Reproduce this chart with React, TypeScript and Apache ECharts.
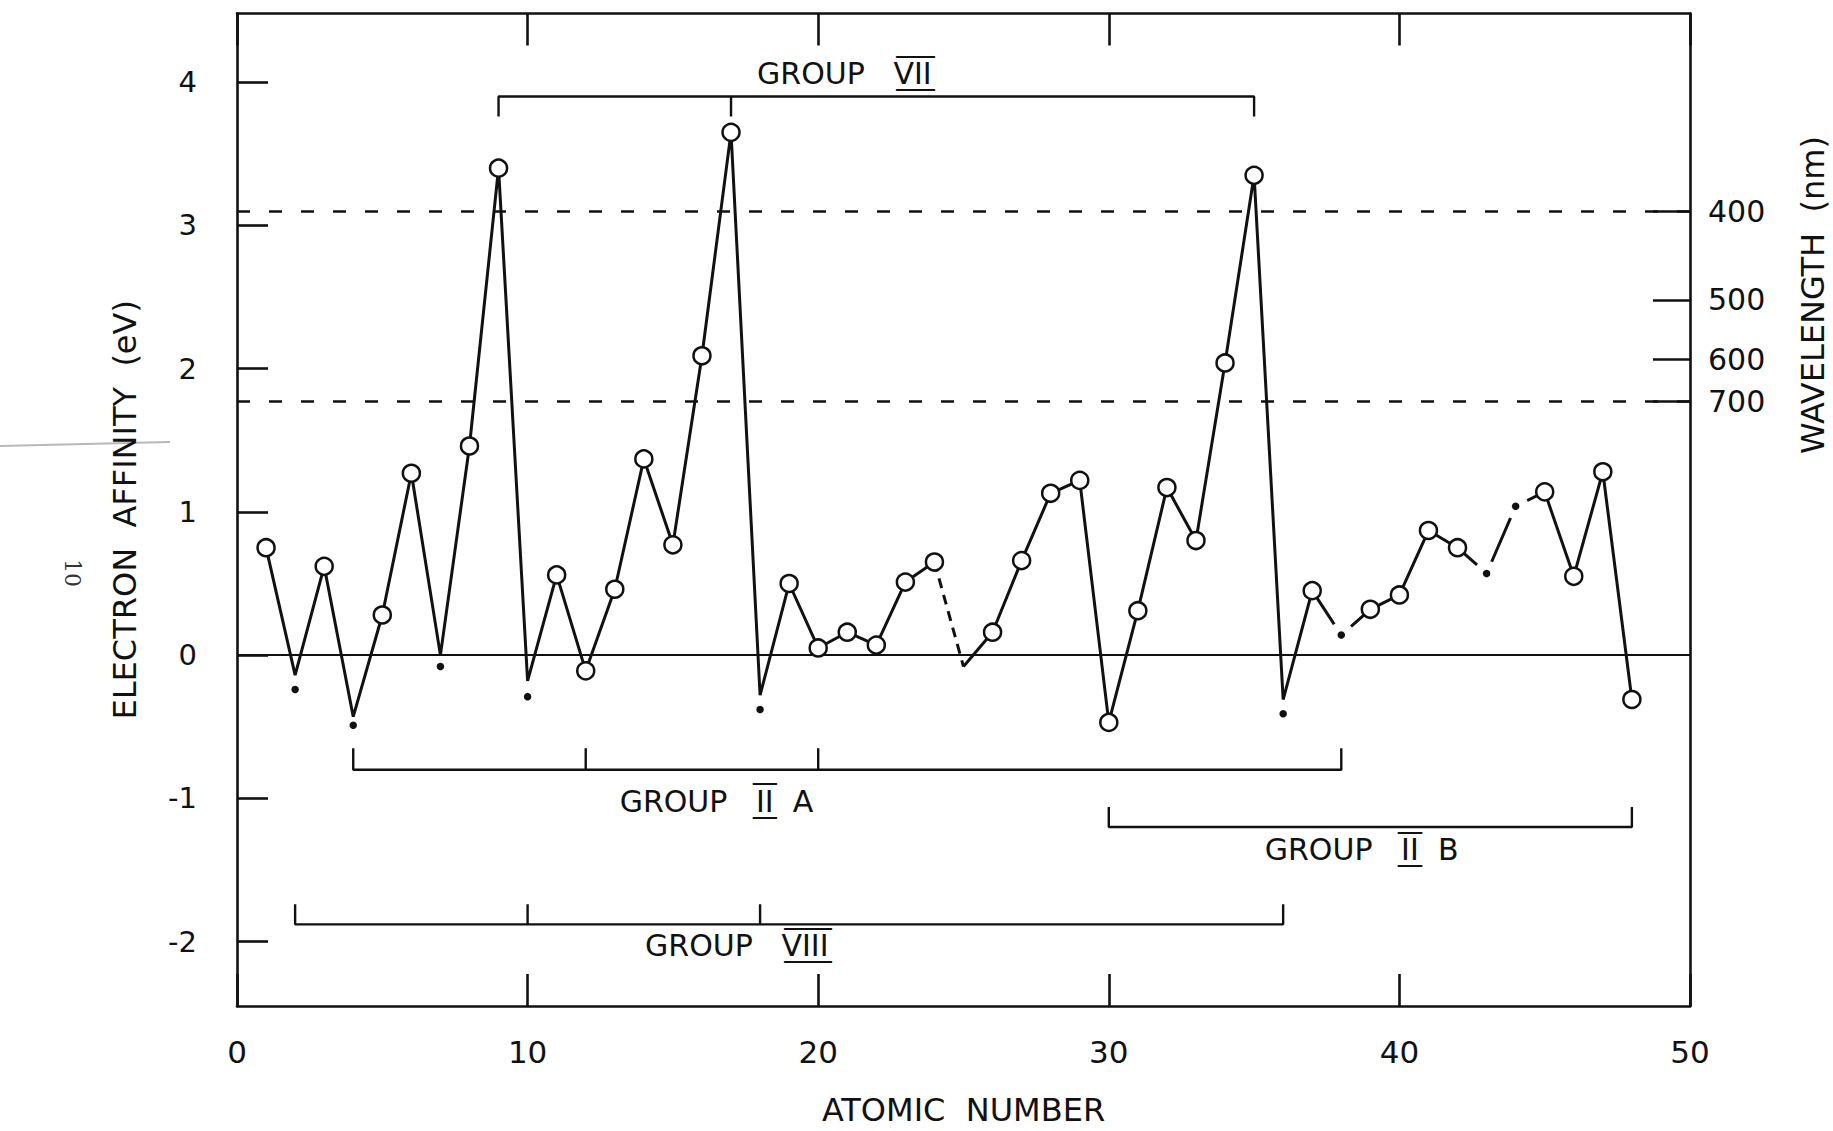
import React, { useEffect, useRef } from "react";
import * as echarts from "echarts";

// ---------- data ----------
const atomicNumbers = [
  1, 2, 3, 4, 5, 6, 7, 8, 9, 10, 11, 12, 13, 14, 15, 16, 17, 18, 19, 20, 21, 22, 23, 24,
  25, 26, 27, 28, 29, 30, 31, 32, 33, 34, 35, 36, 37, 38, 39, 40, 41, 42, 43, 44, 45, 46, 47, 48,
];
// vertices of the connecting polyline (eV)
const lineValues = [
  0.75, -0.14, 0.62, -0.43, 0.28, 1.27, 0.0, 1.46, 3.4, -0.18, 0.56, -0.11, 0.46, 1.37, 0.77, 2.09,
  3.65, -0.28, 0.5, 0.05, 0.16, 0.07, 0.51, 0.65, -0.08, 0.16, 0.66, 1.13, 1.22, -0.47, 0.31, 1.17,
  0.8, 2.04, 3.35, -0.31, 0.45, 0.14, 0.32, 0.42, 0.87, 0.75, 0.57, 1.04, 1.14, 0.55, 1.28, -0.31,
];
// o = open circle, . = small dot, - = no marker
const markerKinds = [
  "o", ".", "o", ".", "o", "o", ".", "o", "o", ".", "o", "o", "o", "o", "o", "o",
  "o", ".", "o", "o", "o", "o", "o", "o", "-", "o", "o", "o", "o", "o", "o", "o",
  "o", "o", "o", ".", "o", ".", "o", "o", "o", "o", ".", ".", "o", "o", "o", "o",
];
const dotAtomicNumbers = [2, 4, 7, 10, 18, 36, 38, 43, 44];
const dotValues = [-0.24, -0.49, -0.08, -0.29, -0.38, -0.41, 0.14, 0.57, 1.04];
const gapDotAtomicNumbers = [38, 43, 44];
const dashedSegmentStarts = [24];

const xTickLabels = [0, 10, 20, 30, 40, 50];
const yTickValues = [-2, -1, 0, 1, 2, 3, 4];
const wavelengthTicks = [400, 500, 600, 700];
const dashedWavelengths = [400, 700];
const HC = 1239.84;

// Roman numerals written with over- and under-bars, as in the figure
const groupNumerals = [
  "V\u0332\u0305I\u0332\u0305I\u0332\u0305",
  "I\u0332\u0305I\u0332\u0305",
  "I\u0332\u0305I\u0332\u0305",
  "V\u0332\u0305I\u0332\u0305I\u0332\u0305I\u0332\u0305",
];
const groupSuffixes = ["", "A", "B", ""];
const groupStart = [9, 4, 30, 2];
const groupEnd = [35, 38, 48, 36];
const groupMidTicks = [[17], [12, 20], [], [10, 18]];
const groupLevel = [3.9, -0.8, -1.2, -1.88];
const groupTickEnd = [3.76, -0.65, -1.06, -1.74];
const groupLabelZ = [20.9, 16.5, 38.7, 17.2];
const groupLabelValue = [4.06, -1.02, -1.36, -2.03];

// ---------- style ----------
const ink = "#111";
const font = "DejaVu Sans";

function buildOption() {
  const pts = atomicNumbers.map((z, i) => [z, lineValues[i]]);
  const solidRuns: number[][][] = [];
  const dashedRuns: number[][][] = [];
  let run: number[][] = [pts[0]];
  for (let i = 1; i < pts.length; i++) {
    if (dashedSegmentStarts.includes(atomicNumbers[i - 1])) {
      if (run.length > 1) solidRuns.push(run);
      dashedRuns.push([pts[i - 1], pts[i]]);
      run = [pts[i]];
    } else run.push(pts[i]);
  }
  if (run.length > 1) solidRuns.push(run);

  const series: any[] = [];
  solidRuns.forEach((r, k) => {
    series.push({
      type: "line",
      data: r,
      showSymbol: false,
      symbol: "none",
      silent: true,
      z: 3,
      lineStyle: { color: ink, width: 3, opacity: 1 },
      markLine:
        k === 0
          ? {
              silent: true,
              symbol: ["none", "none"],
              label: { show: false },
              data: [
                { yAxis: 0, lineStyle: { color: ink, width: 2.2, type: "solid", opacity: 1 } },
                ...dashedWavelengths.map((w) => ({
                  yAxis: HC / w,
                  lineStyle: { color: ink, width: 2.6, type: [13, 19], opacity: 1 },
                })),
              ],
            }
          : undefined,
    });
  });
  dashedRuns.forEach((r) =>
    series.push({
      type: "line",
      data: r,
      showSymbol: false,
      symbol: "none",
      silent: true,
      z: 3,
      lineStyle: { color: ink, width: 3, type: [10, 7], opacity: 1 },
    })
  );

  // brackets
  groupStart.forEach((s, i) => {
    series.push({
      type: "line",
      data: [
        [s, groupTickEnd[i]],
        [s, groupLevel[i]],
        [groupEnd[i], groupLevel[i]],
        [groupEnd[i], groupTickEnd[i]],
      ],
      showSymbol: false,
      symbol: "none",
      silent: true,
      z: 2,
      lineStyle: { color: ink, width: 2.4, opacity: 1 },
    });
    groupMidTicks[i].forEach((m) =>
      series.push({
        type: "line",
        data: [
          [m, groupLevel[i]],
          [m, groupTickEnd[i]],
        ],
        showSymbol: false,
        symbol: "none",
        silent: true,
        z: 2,
        lineStyle: { color: ink, width: 2.4, opacity: 1 },
      })
    );
  });

  // group labels
  series.push({
    type: "scatter",
    silent: true,
    z: 4,
    symbolSize: 1,
    itemStyle: { color: "rgba(0,0,0,0)", opacity: 1 },
    data: groupLabelZ.map((z, i) => [z, groupLabelValue[i]]),
    label: {
      show: true,
      position: "inside",
      opacity: 1,
      formatter: (p: any) => {
        const i = p.dataIndex;
        let s = `{t|GROUP}{s|   }{r|${groupNumerals[i]}}`;
        if (groupSuffixes[i]) s += `{s|  }{t|${groupSuffixes[i]}}`;
        return s;
      },
      rich: {
        t: { fontFamily: font, fontSize: 30, color: ink },
        s: { fontFamily: font, fontSize: 30, color: ink },
        r: { fontFamily: font, fontSize: 30, color: ink },
      },
    },
  });

  // white masks that open small gaps around some dots
  series.push({
    type: "scatter",
    silent: true,
    z: 5,
    symbol: "circle",
    symbolSize: 26,
    itemStyle: { color: "#fff", opacity: 1 },
    data: gapDotAtomicNumbers.map((z) => [z, dotValues[dotAtomicNumbers.indexOf(z)]]),
  });
  // small dots
  series.push({
    type: "scatter",
    silent: true,
    z: 6,
    symbol: "circle",
    symbolSize: 7.5,
    itemStyle: { color: ink, opacity: 1 },
    data: dotAtomicNumbers.map((z, i) => [z, dotValues[i]]),
  });
  // open circles
  series.push({
    type: "scatter",
    silent: true,
    z: 7,
    symbol: "circle",
    symbolSize: 17,
    itemStyle: { color: "#fff", borderColor: ink, borderWidth: 2.5, opacity: 1 },
    data: atomicNumbers
      .map((z, i) => (markerKinds[i] === "o" ? [z, lineValues[i]] : null))
      .filter((d) => d !== null),
  });

  const axisLine = { show: true, onZero: false, lineStyle: { color: ink, width: 2.6 } };
  const yMin = -2.45;
  const yMax = 4.48;
  const eVTicks = wavelengthTicks.map((w) => HC / w);

  return {
    animation: false,
    backgroundColor: "#fff",
    grid: { left: 237, right: 143, top: 13.5, bottom: 123, containLabel: false },
    xAxis: [
      {
        type: "value",
        position: "bottom",
        min: 0,
        max: 50,
        interval: 10,
        axisLine,
        splitLine: { show: false },
        axisTick: { show: true, inside: true, length: 32, lineStyle: { color: ink, width: 2.6 } },
        axisLabel: {
          show: true,
          margin: 30,
          fontFamily: font,
          fontSize: 31,
          color: ink,
          customValues: xTickLabels,
        },
        name: "ATOMIC  NUMBER",
        nameLocation: "middle",
        nameGap: 88,
        nameTextStyle: { fontFamily: font, fontSize: 32, color: ink },
      },
      {
        type: "value",
        position: "top",
        min: 0,
        max: 50,
        interval: 10,
        axisLine,
        splitLine: { show: false },
        axisTick: { show: true, inside: true, length: 32, lineStyle: { color: ink, width: 2.6 } },
        axisLabel: { show: false },
      },
    ],
    yAxis: [
      {
        type: "value",
        position: "left",
        min: yMin,
        max: yMax,
        axisLine,
        splitLine: { show: false },
        axisTick: {
          show: true,
          inside: true,
          length: 31,
          customValues: yTickValues,
          lineStyle: { color: ink, width: 2.6 },
        },
        axisLabel: {
          show: true,
          margin: 40,
          fontFamily: font,
          fontSize: 29,
          color: ink,
          customValues: yTickValues,
        },
        name: "ELECTRON  AFFINITY  (eV)",
        nameLocation: "middle",
        nameRotate: 90,
        nameGap: 96,
        nameTextStyle: { fontFamily: font, fontSize: 32, color: ink },
      },
      {
        type: "value",
        position: "right",
        min: yMin,
        max: yMax,
        axisLine,
        splitLine: { show: false },
        axisTick: {
          show: true,
          inside: true,
          length: 37,
          customValues: eVTicks,
          lineStyle: { color: ink, width: 2.6 },
        },
        axisLabel: {
          show: true,
          margin: 18,
          fontFamily: font,
          fontSize: 30,
          color: ink,
          customValues: eVTicks,
          formatter: (v: number) => String(Math.round(HC / v)),
        },
      },
    ],
    graphic: [
      {
        type: "text",
        x: 1813,
        y: 295,
        rotation: Math.PI / 2,
        style: {
          text: "WAVELENGTH  (nm)",
          fontFamily: font,
          fontSize: 32,
          fill: ink,
          textAlign: "center",
          textVerticalAlign: "middle",
        },
      },
      {
        type: "text",
        x: 72,
        y: 573,
        rotation: -Math.PI / 2,
        style: {
          text: "10",
          fontFamily: "DejaVu Serif",
          fontSize: 22,
          fill: "#333",
          textAlign: "center",
          textVerticalAlign: "middle",
        },
      },
      {
        type: "line",
        shape: { x1: 0, y1: 446, x2: 170, y2: 442 },
        style: { stroke: "#b8b8b8", lineWidth: 2 },
      },
    ],
    series,
  };
}

export default function App() {
  const ref = useRef<HTMLDivElement>(null);
  useEffect(() => {
    document.body.style.margin = "0";
    document.body.style.overflow = "hidden";
    const chart = echarts.init(ref.current!, null, { renderer: "svg" });
    chart.setOption(buildOption() as any);
    return () => chart.dispose();
  }, []);
  return <div ref={ref} style={{ width: 1833, height: 1131, background: "#fff" }} />;
}
